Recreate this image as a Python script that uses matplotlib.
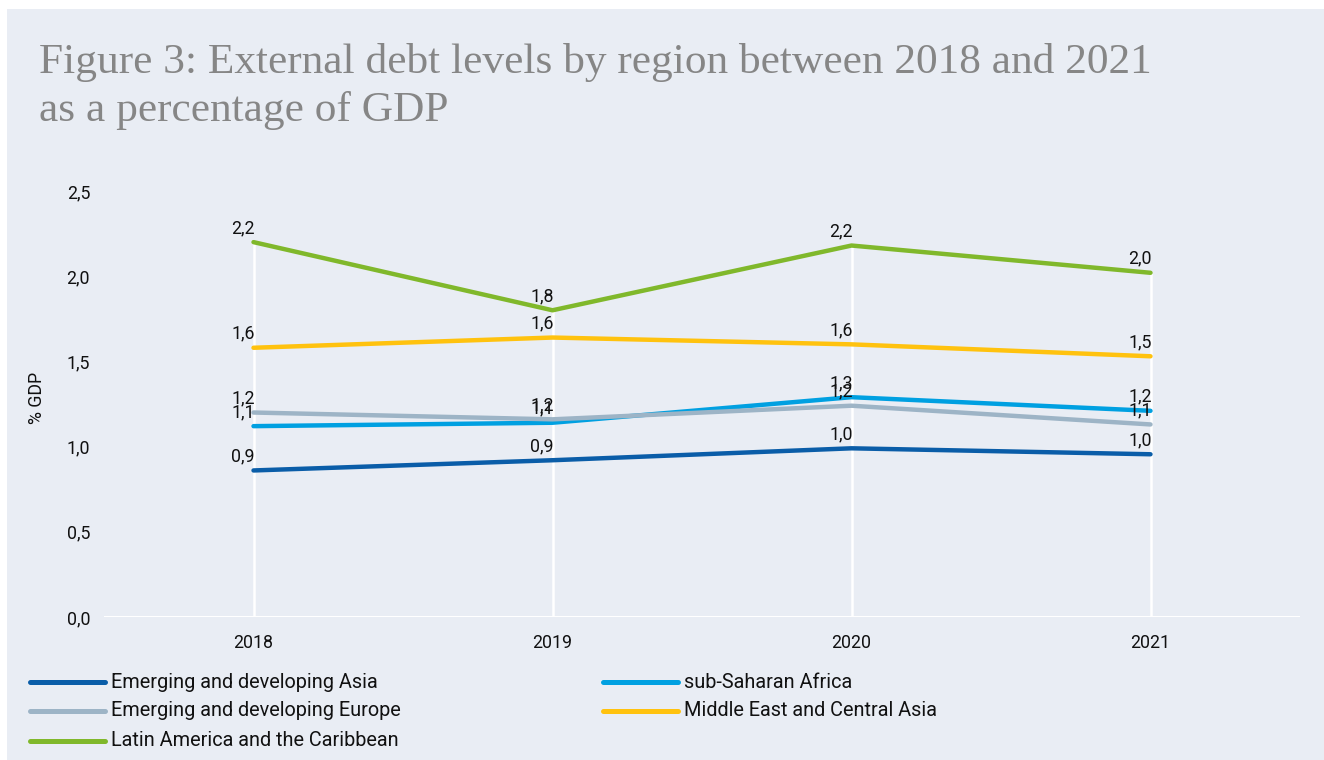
import matplotlib
matplotlib.use("Agg")
import matplotlib.pyplot as plt
from matplotlib.lines import Line2D
from matplotlib.patches import Rectangle
from matplotlib.ticker import FuncFormatter

# data
years = [2018, 2019, 2020, 2021]
asia = [0.86, 0.92, 0.99, 0.955]
ssa = [1.12, 1.14, 1.29, 1.21]
europe = [1.20, 1.16, 1.24, 1.13]
meca = [1.58, 1.64, 1.60, 1.53]
latam = [2.20, 1.80, 2.18, 2.02]

names = [
    "Emerging and developing Asia",
    "sub-Saharan Africa",
    "Emerging and developing Europe",
    "Middle East and Central Asia",
    "Latin America and the Caribbean",
]
series = [asia, ssa, europe, meca, latam]
colors = ["#0A5DA8", "#00A0E1", "#9DB4C6", "#FFC20E", "#80B82B"]

BG = "#E9EDF4"
NUM_FONT = "Roboto"


def comma(v, _pos=None):
    return f"{v:.1f}".replace(".", ",")


fig = plt.figure(figsize=(13.24, 7.6), dpi=100)
fig.patch.set_facecolor("white")
fig.patches.append(Rectangle((7 / 1324, 0), 1, 751 / 760, transform=fig.transFigure,
                             facecolor=BG, edgecolor="none", zorder=-10))

fig.text(39 / 1324, 1 - 73 / 760, "Figure 3: External debt levels by region between 2018 and 2021",
         family="Liberation Serif", fontsize=31.2, color="#868686", va="baseline")
fig.text(39 / 1324, 1 - 121 / 760, "as a percentage of GDP",
         family="Liberation Serif", fontsize=31.2, color="#868686", va="baseline")

ax = fig.add_axes([104 / 1324, 143 / 760, (1300 - 104) / 1324, (617 - 191) / 760])
ax.set_facecolor("none")
for side in ["top", "right", "left", "bottom"]:
    ax.spines[side].set_visible(False)
ax.axhline(0, color="white", lw=2.2, zorder=1)

# white drop lines from the highest series down to zero
tops = [max(vals) for vals in zip(*series)]
ax.vlines(years, 0, tops, color="white", lw=1.8, zorder=1)

for vals, color in zip(series, colors):
    ax.plot(years, vals, color=color, lw=3.2, solid_capstyle="round", zorder=3)
    for x, v in zip(years, vals):
        ax.annotate(comma(v), (x, v), xytext=(1, 6.5), textcoords="offset points",
                    ha="right", va="baseline", fontsize=12.8, family=NUM_FONT,
                    color="#111111", zorder=4)

ax.set_xlim(2017.5, 2021.5)
ax.set_ylim(0, 2.5)
ax.set_xticks(years)
ax.set_yticks([0, 0.5, 1.0, 1.5, 2.0, 2.5])
ax.yaxis.set_major_formatter(FuncFormatter(comma))
ax.tick_params(axis="both", length=0, labelsize=12.8, labelcolor="#111111")
ax.tick_params(axis="y", pad=10)
ax.tick_params(axis="x", pad=12)
for lab in ax.get_xticklabels() + ax.get_yticklabels():
    lab.set_family(NUM_FONT)

fig.text(37 / 1324, 1 - 398 / 760, "% GDP", rotation=90, ha="center", va="center",
         fontsize=12.8, family=NUM_FONT, color="#111111")

# legend, two columns filled row by row
slots = [(30, 682), (603, 682), (30, 711), (603, 711), (30, 741)]
for (px, py), name, color in zip(slots, names, colors):
    y = 1 - py / 760
    fig.add_artist(Line2D([px / 1324, (px + 75) / 1324], [y, y], transform=fig.transFigure,
                          color=color, lw=3.6, solid_capstyle="round"))
    fig.text((px + 81) / 1324, y, name, va="center", ha="left", fontsize=14.3,
             family=NUM_FONT, color="#111111")

fig.savefig("out.png", dpi=100, facecolor="white")
